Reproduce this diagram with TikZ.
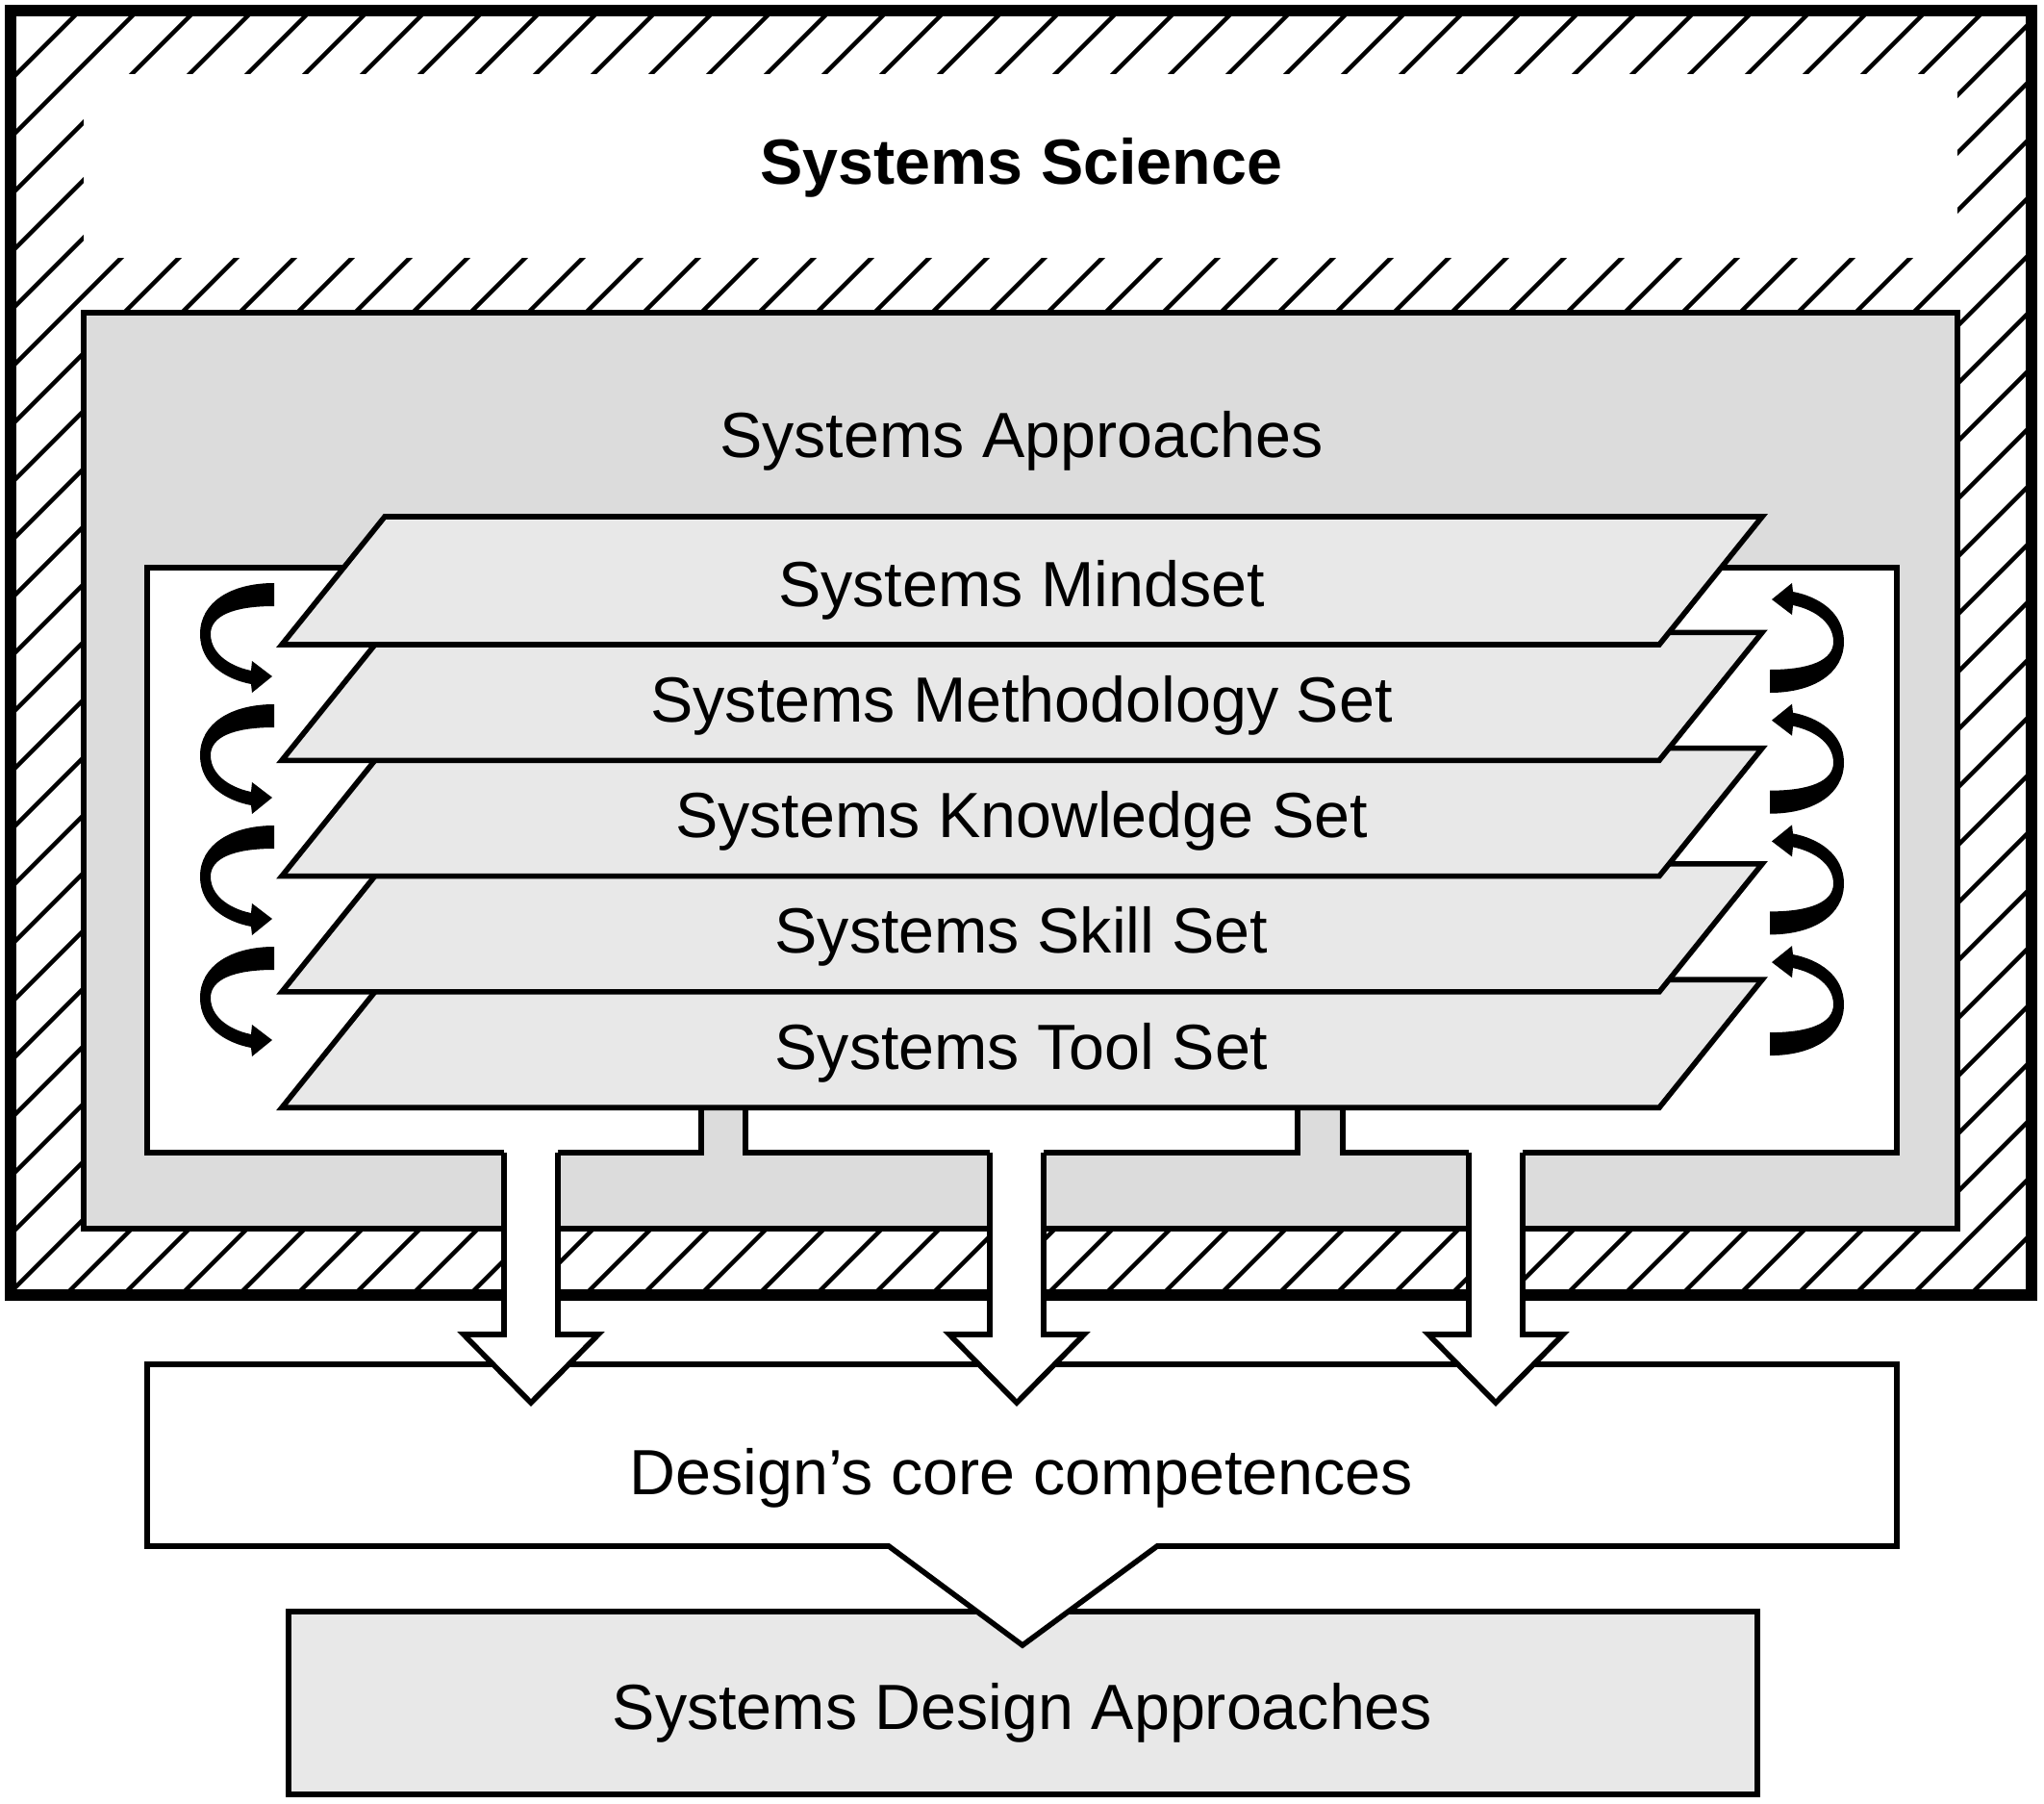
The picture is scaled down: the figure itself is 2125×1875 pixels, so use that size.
\documentclass[tikz,border=0pt]{standalone}
\usepackage{fontspec}
\setmainfont{Liberation Sans}
\definecolor{approachgray}{HTML}{DCDCDC}
\definecolor{setgray}{HTML}{E8E8E8}

\begin{document}
\begin{tikzpicture}[x=0.25pt,y=0.25pt,yscale=-1,xscale=1,
  boxline/.style={line width=1.4pt},
  hatchline/.style={line width=1.1pt},
  label/.style={anchor=base,inner sep=0.75pt,font=\fontsize{16.6}{20}\selectfont},
  loopy/.pic={
    \fill (0,12) .. controls (-45,12) and (-77,-8) .. (-77,-41)
      .. controls (-77,-72) and (-50,-88) .. (-24,-93)
      -- (-23,-102) -- (-2,-85) -- (-23,-69) -- (-24,-79)
      .. controls (-48,-74) and (-66,-60) .. (-66,-41)
      .. controls (-66,-22) and (-42,-12) .. (0,-12) -- cycle;
  }]
\useasboundingbox (0,0) rectangle (2125,1875);
% hatched frame
\begin{scope}
\clip (11,11) rectangle (2112,1346);
\foreach \c in {94,154,...,3500}
  \draw[hatchline] (\c,0) -- ++(-1400,1400);
\end{scope}
\fill[white] (87,77) rectangle (2035,268);
\draw[line width=3pt] (11,11) rectangle (2112,1346);
\draw[boxline,fill=approachgray] (87,325) rectangle (2035,1277);
\draw[boxline,fill=white] (153,590) -- (1972,590) -- (1972,1198) -- (1396,1198) -- (1396,1150) -- (1349,1150) -- (1349,1198) -- (775,1198) -- (775,1150) -- (729,1150) -- (729,1198) -- (153,1198) -- cycle;
% Text Node
\draw (1062,191) node [label,font=\fontsize{16.6}{20}\selectfont\bfseries] (science) {Systems Science};
% Text Node
\draw (1062,475) node [label] (approaches) {Systems Approaches};
% the five sets, back to front
\foreach \i/\txt/\nm in {4/Systems Tool Set/toolset,3/Systems Skill Set/skillset,2/Systems Knowledge Set/knowset,1/Systems Methodology Set/methodset,0/Systems Mindset/mindset} {
  \pgfmathsetmacro{\yb}{670+120.3*\i}
  \draw[boxline,fill=setgray] (293,\yb) -- (400,\yb-133) -- (1832,\yb-133) -- (1725,\yb) -- cycle;
  \draw (1062,\yb-40) node [label] (\nm) {\txt};
}
\foreach \k in {0,...,3}
  \pic at (285,618+126*\k) {loopy};
\foreach \k in {0,...,3}
  \pic[rotate=180] at (1840,708+125.7*\k) {loopy};
\draw[boxline,fill=setgray] (300,1675) rectangle (1827,1865);
% Text Node
\draw (1063,1797) node [label] (design) {Systems Design Approaches};
\draw[boxline,fill=white] (153,1418) -- (1972,1418) -- (1972,1607) -- (1203,1607) -- (1063,1710) -- (924,1607) -- (153,1607) -- cycle;
% Text Node
\draw (1062,1553) node [label] (core) {Design’s core competences};
\foreach \ax in {552,1057,1555} {
  \fill[white] (\ax-28,1193) -- (\ax-28,1387) -- (\ax-70,1387) -- (\ax,1458) -- (\ax+70,1387) -- (\ax+28,1387) -- (\ax+28,1193) -- cycle;
  \draw[boxline] (\ax-28,1198) -- (\ax-28,1387) -- (\ax-70,1387) -- (\ax,1458) -- (\ax+70,1387) -- (\ax+28,1387) -- (\ax+28,1198);
}
\end{tikzpicture}
\end{document}
